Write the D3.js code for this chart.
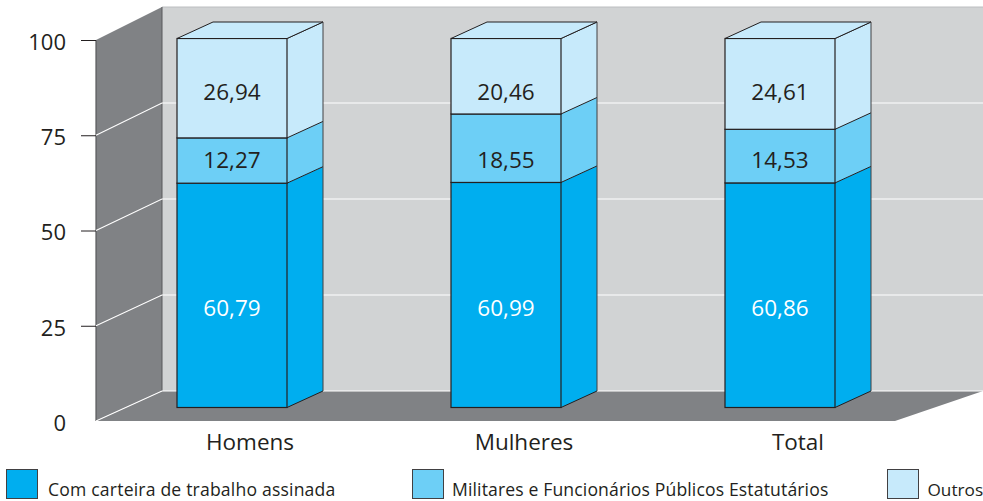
<!DOCTYPE html>
<html><head><meta charset="utf-8">
<script src="https://cdn.jsdelivr.net/npm/d3@7"></script>
<style>html,body{margin:0;padding:0;background:#fff}svg{display:block}text{font-family:"Open Sans",sans-serif;fill:#231f20}</style>
</head><body><svg id="c" width="983" height="501"></svg>
<script>
const categories=["Homens","Mulheres","Total"];
const seriesNames=["Com carteira de trabalho assinada","Militares e Funcionários Públicos Estatutários","Outros"];
const carteira=[60.79,60.99,60.86];
const militares=[12.27,18.55,14.53];
const outros=[26.94,20.46,24.61];
const yTicks=[0,25,50,75,100];
const seriesValues=[carteira,militares,outros];
const colors=["#00aeef","#6dcff6","#c7eafb"];
const labelColors=["#fff","#231f20","#231f20"];
const fmt=v=>v.toFixed(2).replace(".",",");

const svg=d3.select("#c");
const front=d3.scaleLinear().domain([0,100]).range([421,40]);
const back=d3.scaleLinear().domain([0,100]).range([391,7]);
const barY=d3.scaleLinear().domain([0,100]).range([407.5,38.5]);
const x=d3.scalePoint().domain(categories).range([232,780]);
const xFront=96,xBack=162,xEnd=983,xFloorEnd=895;
const barW=110,dx=36,dy=-16.5;
const dark="#808285",line="#231f20";
const labelRow=[barY(27),barY(67),barY(85.4)];
const poly=p=>p.map(d=>d.join(",")).join(" ");

// back wall
svg.append("rect").attr("x",xBack).attr("y",back(100)).attr("width",xEnd-xBack).attr("height",back(0)-back(100)).attr("fill","#d1d3d4");
svg.append("line").attr("x1",xBack).attr("x2",xEnd).attr("y1",back(100)).attr("y2",back(100)).attr("stroke","#bcbec0").attr("stroke-width",1);
// side wall
svg.append("polygon").attr("points",poly([[xFront,front(100)],[xBack,back(100)],[xBack,back(0)],[xFront,front(0)]])).attr("fill",dark);
// floor
svg.append("polygon").attr("points",poly([[xFront,front(0)],[xBack,back(0)],[xEnd,back(0)],[xFloorEnd,front(0)]])).attr("fill",dark);
svg.append("line").attr("x1",xFront).attr("x2",xFront).attr("y1",front(100)).attr("y2",front(0)).attr("stroke","#58595b").attr("stroke-width",1.2);
svg.append("line").attr("x1",xBack).attr("x2",xBack).attr("y1",back(100)).attr("y2",back(0)).attr("stroke","#58595b").attr("stroke-width",1);
// grid
yTicks.forEach(t=>{
  if(t<100) svg.append("polyline").attr("fill","none").attr("stroke","#fff").attr("stroke-width",1.1)
    .attr("points",poly([[xFront,front(t)],[xBack,back(t)],[xEnd,back(t)]]));
});
// axis
const ax=svg.append("g").attr("transform",`translate(${xFront},0)`)
  .call(d3.axisLeft(front).tickValues(yTicks).tickSize(15).tickPadding(15));
ax.select(".domain").remove();
ax.selectAll(".tick line").attr("stroke",d=>d===0?"none":line).attr("stroke-width",1);
ax.selectAll("text").attr("font-size",22).attr("dy","0.42em").style("font-family",'"Open Sans",sans-serif').attr("fill","#231f20");

// bars
categories.forEach((c,i)=>{
  const g=svg.append("g");
  const x0=x(c)-barW/2,x1=x0+barW;
  const edges=[0,carteira[i],carteira[i]+militares[i],100];
  seriesValues.forEach((s,k)=>{
    const a=barY(edges[k]),b=barY(edges[k+1]);
    g.append("polygon").attr("points",poly([[x1,a],[x1+dx,a+dy],[x1+dx,b+dy],[x1,b]])).attr("fill",colors[k]);
  });
  seriesValues.forEach((s,k)=>{
    const a=barY(edges[k]),b=barY(edges[k+1]);
    g.append("rect").attr("x",x0).attr("y",b).attr("width",barW).attr("height",a-b)
      .attr("fill",colors[k]).attr("stroke",line).attr("stroke-width",1.2);
    g.append("line").attr("x1",x1).attr("y1",b).attr("x2",x1+dx).attr("y2",b+dy).attr("stroke",line).attr("stroke-width",1);
    g.append("text").attr("x",x(c)).attr("y",labelRow[k]+8).attr("text-anchor","middle").attr("font-size",22.5)
      .style("fill",labelColors[k]).text(fmt(s[i]));
  });
  const top=barY(100),bot=barY(0);
  g.append("polygon").attr("points",poly([[x0,top],[x0+dx,top+dy],[x1+dx,top+dy],[x1,top]])).attr("fill",colors[2]).attr("stroke",line).attr("stroke-width",1);
  g.append("line").attr("x1",x1+dx).attr("x2",x1+dx).attr("y1",top+dy).attr("y2",bot+dy).attr("stroke","#414042").attr("stroke-width",1);
  g.append("line").attr("x1",x1).attr("x2",x1+dx).attr("y1",bot).attr("y2",bot+dy).attr("stroke",line).attr("stroke-width",1);
  svg.append("text").attr("x",x(c)+18).attr("y",450).attr("text-anchor","middle").attr("font-size",22.5).text(c);
});

// legend
const legendX=d3.scaleOrdinal().domain(seriesNames).range([6,412,887]);
const legendGap=[42,40,40.5],legendSpacing=[0.18,0.13,0];
seriesNames.forEach((n,k)=>{
  const lx=legendX(n);
  svg.append("rect").attr("x",lx+.5).attr("y",469.5).attr("width",31).attr("height",29).attr("fill",colors[k]).attr("stroke","#414042").attr("stroke-width",1);
  svg.append("text").attr("x",lx+legendGap[k]).attr("y",496).attr("font-size",k===2?17.2:17.6).attr("letter-spacing",legendSpacing[k]).text(n);
});
</script></body></html>
